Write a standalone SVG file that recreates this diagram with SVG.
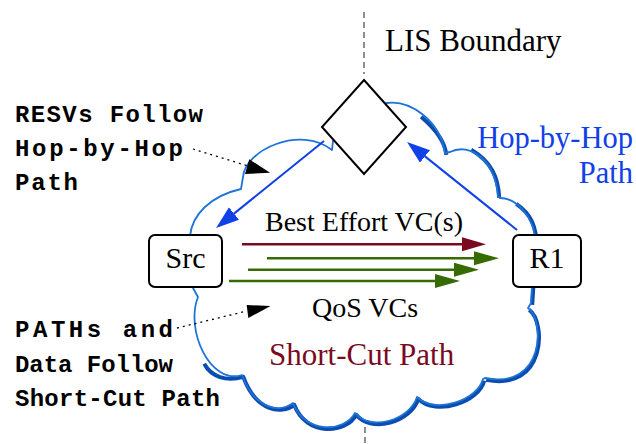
<svg xmlns="http://www.w3.org/2000/svg" width="636" height="444" viewBox="0 0 636 444">
<style>
.serif{font-family:"Liberation Serif","Times New Roman",serif;}
.mono{font-family:"Liberation Mono","Courier New",monospace;font-weight:bold;font-size:24px;fill:#000;}
.box{fill:#fff;stroke:#000;stroke-width:2;}
.dash{stroke:#555;stroke-width:1.3;stroke-dasharray:6,4;fill:none;}
.dot{stroke:#000;stroke-width:1.3;stroke-dasharray:2,4;fill:none;}
.red{stroke:#7a0a1e;stroke-width:2.5;fill:none;}
.green{stroke:#366b00;stroke-width:2.5;fill:none;}
.blue{stroke:#1040e8;stroke-width:2;fill:none;}
</style>
<defs>
<marker id="ahRed" markerUnits="userSpaceOnUse" markerWidth="26" markerHeight="16" refX="0" refY="7" orient="auto"><path d="M0,0 L24,7 L0,14 z" fill="#7a0a1e"/></marker>
<marker id="ahGreen" markerUnits="userSpaceOnUse" markerWidth="26" markerHeight="16" refX="0" refY="7" orient="auto"><path d="M0,0 L25,7 L0,14 z" fill="#366b00"/></marker>
<marker id="ahBlue" markerUnits="userSpaceOnUse" markerWidth="26" markerHeight="18" refX="0" refY="8" orient="auto"><path d="M0,0 L23,8 L0,16 z" fill="#1040e8"/></marker>
</defs>
<rect width="636" height="444" fill="#fff"/>
<g id="boundary">
<line class="dash" x1="364" y1="12" x2="364" y2="74"/>
<line class="dash" x1="365" y1="427" x2="365" y2="444"/>
</g>
<g id="cloud">
<path d="M190,236 C192,215 210,196 241,189 L243,177 C245,150 300,125 332,150 L333,141 L350,110 L387,103 C410,100 440,120 445,153 L450,152 C470,142 495,160 498,196 L500,198 C515,198 535,215 536,245 L532,287 L531,303 L528,308 C545,320 545,390 485,378 L483,379 C478,400 435,415 417,397 C410,420 370,432 355,413 C345,432 305,435 293,403 C280,413 255,410 242,375 C210,385 185,330 198,297 L193,288 Z" fill="#fff" stroke="none"/>
<path d="M420,115 C435,128 444,140 445,153 M470,148 C490,160 497,175 498,196 M515,202 C530,212 535,225 536,245 L532,287 L531,303 M528,308 C545,320 545,390 485,378 M483,379 C478,400 435,415 417,397 C410,420 370,432 355,413 C345,432 305,435 293,403 C280,413 255,410 242,375 C225,380 210,375 203,362" fill="none" stroke="#0b4cb0" stroke-width="4" stroke-linejoin="round" transform="translate(1.2,1.8)"/>
<path d="M190,236 C192,215 210,196 241,189 L243,177 C245,150 300,125 332,150 L333,141 L350,110 L387,103 C410,100 440,120 445,153 L450,152 C470,142 495,160 498,196 L500,198 C515,198 535,215 536,245 L532,287 L531,303 L528,308 C545,320 545,390 485,378 L483,379 C478,400 435,415 417,397 C410,420 370,432 355,413 C345,432 305,435 293,403 C280,413 255,410 242,375 C210,385 185,330 198,297 L193,288 Z" fill="none" stroke="#1e74d6" stroke-width="1.8" stroke-linejoin="round"/>
</g>
<g id="boundary-node">
<polygon class="box" points="364,80 406,127 364,174 322,127"/>
</g>
<g id="src">
<rect class="box" x="149" y="235" width="73" height="52" rx="6"/>
<text class="serif" x="185.5" y="268" font-size="30" text-anchor="middle">Src</text>
</g>
<g id="r1">
<rect class="box" x="513" y="235" width="68" height="52" rx="6"/>
<text class="serif" x="547" y="268" font-size="30" text-anchor="middle">R1</text>
</g>
<g id="connectors">
<line class="red" x1="242" y1="244.3" x2="462" y2="244.3" marker-end="url(#ahRed)"/>
<line class="green" x1="267" y1="258.3" x2="474" y2="258.3" marker-end="url(#ahGreen)"/>
<line class="green" x1="248" y1="269.7" x2="454" y2="269.7" marker-end="url(#ahGreen)"/>
<line class="green" x1="229" y1="281" x2="435" y2="281" marker-end="url(#ahGreen)"/>
<line class="blue" x1="324" y1="141" x2="234" y2="213.6" marker-end="url(#ahBlue)"/>
<line class="blue" x1="517" y1="230" x2="425" y2="156.4" marker-end="url(#ahBlue)"/>
<line class="dot" x1="193" y1="149" x2="248" y2="166"/>
<polygon points="249.3,159.3 245,174 270,172.7" fill="#000"/>
<line class="dot" x1="177" y1="328" x2="247" y2="311"/>
<polygon points="246.7,305 248.3,318 270.5,306" fill="#000"/>
</g>
<g id="labels">
<text class="serif" x="385" y="51" font-size="31" fill="#000">LIS Boundary</text>
<text class="serif" x="633" y="148" font-size="30.5" fill="#1040e8" text-anchor="end">Hop-by-Hop</text>
<text class="serif" x="633" y="182.5" font-size="30.5" fill="#1040e8" text-anchor="end">Path</text>
<text class="serif" x="265" y="231" font-size="28" fill="#000">Best Effort VC(s)</text>
<text class="serif" x="312" y="316.5" font-size="28" fill="#000">QoS VCs</text>
<text class="serif" x="269" y="365" font-size="31" fill="#7a0a1e">Short-Cut Path</text>
<text class="mono" x="15" y="122" textLength="188">RESVs Follow</text>
<text class="mono" x="15" y="156" textLength="168">Hop-by-Hop</text>
<text class="mono" x="15" y="190" textLength="63">Path</text>
<text class="mono" x="15" y="337" textLength="158">PATHs and</text>
<text class="mono" x="15" y="372" textLength="158">Data Follow</text>
<text class="mono" x="15" y="406" textLength="205">Short-Cut Path</text>
</g>
</svg>
